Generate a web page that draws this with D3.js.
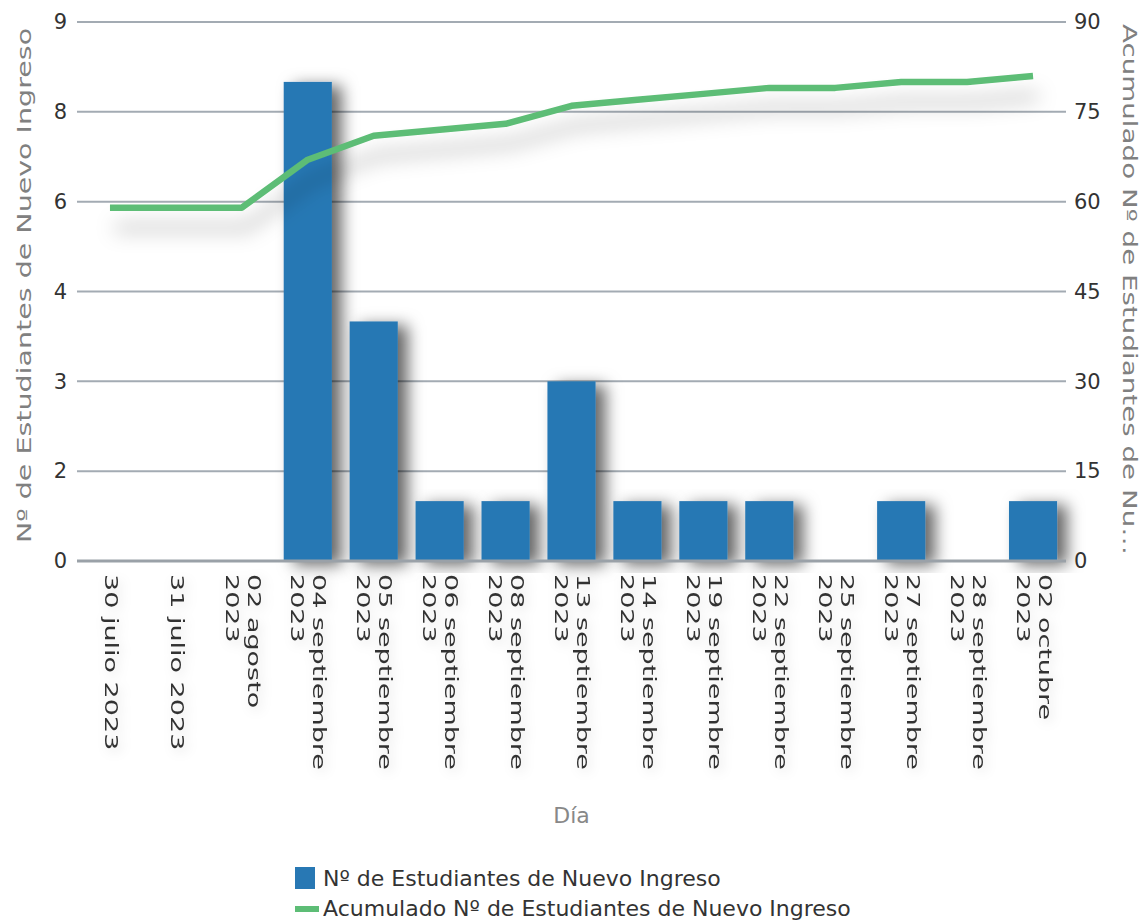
<!DOCTYPE html>
<html>
<head>
<meta charset="utf-8">
<script src="https://cdn.jsdelivr.net/npm/d3@7"></script>
<style>
  body { margin: 0; background: #fff; }
  svg { display: block; font-family: "DejaVu Sans", sans-serif; }
</style>
</head>
<body>
<svg id="chart" width="1143" height="922"></svg>
<script>
// data
var days = [
    ["30 julio 2023"], ["31 julio 2023"], ["02 agosto", "2023"],
    ["04 septiembre", "2023"], ["05 septiembre", "2023"], ["06 septiembre", "2023"],
    ["08 septiembre", "2023"], ["13 septiembre", "2023"], ["14 septiembre", "2023"],
    ["19 septiembre", "2023"], ["22 septiembre", "2023"], ["25 septiembre", "2023"],
    ["27 septiembre", "2023"], ["28 septiembre", "2023"], ["02 octubre", "2023"]
];
var nuevos = [0, 0, 0, 8, 4, 1, 1, 3, 1, 1, 1, 0, 1, 0, 1];
var acumulado = [59, 59, 59, 67, 71, 72, 73, 76, 77, 78, 79, 79, 80, 80, 81];
var leftTicks = [0, 1.5, 3, 4.5, 6, 7.5, 9];
var leftTickLabels = ["0", "2", "3", "4", "6", "8", "9"];
var rightTicks = [0, 15, 30, 45, 60, 75, 90];
var seriesNames = ["Nº de Estudiantes de Nuevo Ingreso", "Acumulado Nº de Estudiantes de Nuevo Ingreso"];

(function() {
    var svg = d3.select('#chart');
    var plotLeft = 77, plotRight = 1066, plotTop = 22, plotBottom = 561;
    var stretch = 1.5;

    var defs = svg.append('defs');
    defs.append('filter').attr('id', 'barShadow').attr('x', '-60%').attr('y', '-20%').attr('width', '220%').attr('height', '140%')
        .append('feDropShadow').attr('dx', 10).attr('dy', 4).attr('stdDeviation', 8)
        .attr('flood-color', '#000').attr('flood-opacity', 0.6);
    defs.append('filter').attr('id', 'lineShadow').attr('x', '-10%').attr('y', '-50%').attr('width', '120%').attr('height', '300%')
        .append('feDropShadow').attr('dx', 5).attr('dy', 20).attr('stdDeviation', 10)
        .attr('flood-color', '#000').attr('flood-opacity', 0.3);
    defs.append('filter').attr('id', 'textShadow').attr('x', '-50%').attr('y', '-50%').attr('width', '200%').attr('height', '200%')
        .append('feDropShadow').attr('dx', 3).attr('dy', 3).attr('stdDeviation', 6)
        .attr('flood-color', '#000').attr('flood-opacity', 0.14);

    var x = d3.scaleBand().domain(d3.range(days.length)).range([plotLeft, plotRight])
        .paddingInner(0.27).paddingOuter(0.135);
    var y = d3.scaleLinear().domain([0, 9]).range([plotBottom, plotTop]);
    var y2 = d3.scaleLinear().domain([0, 90]).range([plotBottom, plotTop]);

    // gridlines
    svg.append('g').selectAll('line').data(leftTicks.slice(1)).enter().append('line')
        .attr('x1', plotLeft).attr('x2', plotRight)
        .attr('y1', function(d) { return y(d); }).attr('y2', function(d) { return y(d); })
        .attr('stroke', '#a3abb3').attr('stroke-width', 2);

    // left axis
    var yAxis = d3.axisLeft(y).tickValues(leftTicks).tickSize(0).tickPadding(10)
        .tickFormat(function(d, i) { return leftTickLabels[i]; });
    var gy = svg.append('g').attr('transform', 'translate(' + plotLeft + ',0)').call(yAxis);
    gy.select('.domain').remove();
    gy.selectAll('text').attr('font-size', 21).attr('fill', '#333').attr('font-family', 'DejaVu Sans');

    // right axis
    var y2Axis = d3.axisRight(y2).tickValues(rightTicks).tickSize(0).tickPadding(8);
    var gy2 = svg.append('g').attr('transform', 'translate(' + plotRight + ',0)').call(y2Axis);
    gy2.select('.domain').remove();
    gy2.selectAll('text').attr('font-size', 21).attr('fill', '#333').attr('font-family', 'DejaVu Sans');

    // bars
    svg.append('g').selectAll('rect').data(nuevos).enter().append('rect')
        .attr('x', function(d, i) { return x(i); })
        .attr('y', function(d) { return y(d); })
        .attr('width', x.bandwidth())
        .attr('height', function(d) { return y(0) - y(d); })
        .attr('fill', '#2878b4')
        .attr('filter', function(d) { return d > 0 ? 'url(#barShadow)' : null; });

    // baseline
    svg.append('line').attr('x1', plotLeft).attr('x2', plotRight).attr('y1', y(0)).attr('y2', y(0))
        .attr('stroke', '#9aa1a8').attr('stroke-width', 3);

    // cumulative line
    var line = d3.line()
        .x(function(d, i) { return x(i) + x.bandwidth() / 2; })
        .y(function(d) { return y2(d); });
    svg.append('path').datum(acumulado).attr('d', line)
        .attr('fill', 'none').attr('stroke', '#5dbd76').attr('stroke-width', 6.5)
        .attr('stroke-linejoin', 'round').attr('filter', 'url(#lineShadow)');

    // x labels
    var lh = 22;
    var xl = svg.append('g').attr('filter', 'url(#textShadow)');
    days.forEach(function(lines, i) {
        var cx = x(i) + x.bandwidth() / 2 + 1;
        var t = xl.append('text')
            .attr('transform', 'translate(' + cx + ',574) rotate(90) scale(' + stretch + ',1)')
            .attr('font-size', 18).attr('fill', '#333');
        lines.forEach(function(s, j) {
            t.append('tspan').attr('x', 0)
                .attr('y', (j - (lines.length - 1) / 2) * lh)
                .attr('dy', '0.35em').text(s);
        });
    });

    // axis titles
    var midY = (plotTop + plotBottom) / 2;
    svg.append('text')
        .attr('transform', 'translate(24,' + (midY - 6) + ') rotate(-90) scale(1.5,1)')
        .attr('text-anchor', 'middle').attr('dy', '0.35em')
        .attr('font-size', 19).attr('fill', '#808080')
        .text(seriesNames[0]);
    svg.append('text')
        .attr('transform', 'translate(1130,' + (midY - 2) + ') rotate(90) scale(1.46,1)')
        .attr('text-anchor', 'middle').attr('dy', '0.35em')
        .attr('font-size', 19).attr('fill', '#808080')
        .text('Acumulado Nº de Estudiantes de Nu…');
    svg.append('text').attr('x', (plotLeft + plotRight) / 2).attr('y', 823)
        .attr('text-anchor', 'middle').attr('font-size', 22).attr('fill', '#888')
        .text('Día');

    // legend
    var lg = svg.append('g').attr('transform', 'translate(295,0)');
    lg.append('rect').attr('x', 0).attr('y', 867).attr('width', 20).attr('height', 22).attr('fill', '#2878b4');
    lg.append('rect').attr('x', 0).attr('y', 906).attr('width', 24).attr('height', 6).attr('fill', '#5dbd76');
    lg.selectAll('text.item').data(seriesNames).enter().append('text')
        .attr('class', 'item')
        .attr('x', 28).attr('y', function(d, i) { return 886 + i * 30; })
        .attr('font-size', 22).attr('fill', '#333')
        .text(function(d) { return d; });
})();
</script>
</body>
</html>
